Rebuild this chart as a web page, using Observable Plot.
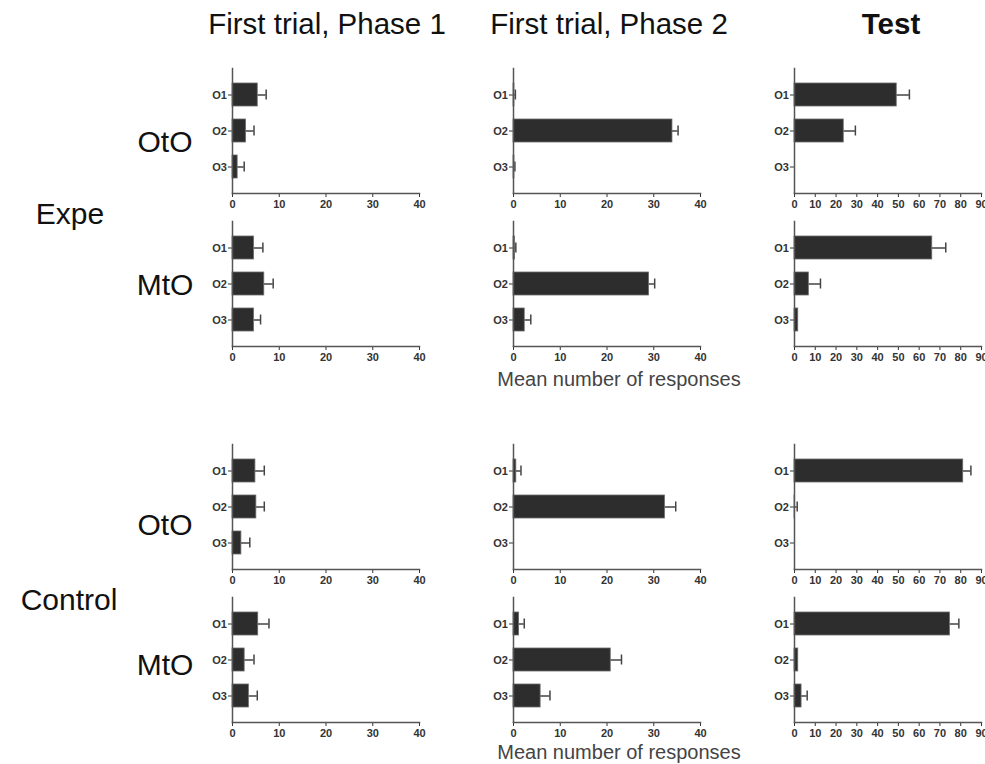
<!DOCTYPE html>
<html>
<head>
<meta charset="utf-8">
<script src="https://cdn.jsdelivr.net/npm/d3@7"></script>
<script src="https://cdn.jsdelivr.net/npm/@observablehq/plot@0.6"></script>
<style>
  html, body { margin: 0; padding: 0; background: #fff; overflow: hidden; }
  #root { position: relative; width: 985px; height: 764px; overflow: hidden; font-family: "Liberation Sans", Arial, sans-serif; color: #111; }
  .lbl { position: absolute; transform: translate(-50%, -50%); white-space: nowrap; }
  .panel { position: absolute; }
</style>
</head>
<body>
<div id="root"></div>
<script>
// ---- data ----
const categories = ["O1", "O2", "O3"];
const columnTitles = ["First trial, Phase 1", "First trial, Phase 2", "Test"];
const groupLabels = ["Expe", "Control"];
const designLabels = ["OtO", "MtO", "OtO", "MtO"];
const xAxisLabel = "Mean number of responses";
const xMax = [40, 40, 90];
const xTicks40 = [0, 10, 20, 30, 40];
const xTicks90 = [0, 10, 20, 30, 40, 50, 60, 70, 80, 90];

// means per row: [Phase 1, Phase 2, Test] x [O1, O2, O3]
const expeOtOMean = [[5.4, 2.9, 1.1], [0.2, 34.0, 0.2], [49.2, 23.7, 0]];
const expeOtOSem  = [[1.8, 1.7, 1.4], [0.2, 1.2, 0.1], [6.1, 5.6, 0]];
const expeMtOMean = [[4.6, 6.8, 4.6], [0.3, 29.0, 2.4], [66.3, 6.9, 1.8]];
const expeMtOSem  = [[1.9, 1.9, 1.4], [0.2, 1.2, 1.3], [6.5, 5.6, 0]];
const ctrlOtOMean = [[4.9, 5.1, 1.9], [0.6, 32.4, 0], [81.2, 0.2, 0]];
const ctrlOtOSem  = [[1.9, 1.7, 1.8], [1.0, 2.3, 0], [3.7, 1.1, 0]];
const ctrlMtOMean = [[5.5, 2.6, 3.5], [1.2, 20.8, 5.8], [74.8, 1.8, 3.4]];
const ctrlMtOSem  = [[2.3, 2.0, 1.8], [1.1, 2.3, 2.0], [4.3, 0, 2.7]];

const rowMeans = [expeOtOMean, expeMtOMean, ctrlOtOMean, ctrlMtOMean];
const rowSems = [expeOtOSem, expeMtOSem, ctrlOtOSem, ctrlMtOSem];

// ---- layout ----
const root = document.getElementById("root");
const colAxisX = [232, 512.7, 794];
const rowFrameTop = [68, 221, 444, 597];
const mL = 40, mR = 20, mT = 8, mB = 25, innerW = 187, innerH = 125;

function addLabel(text, x, y, css) {
  const d = document.createElement("div");
  d.className = "lbl";
  d.textContent = text;
  d.style.left = x + "px";
  d.style.top = y + "px";
  Object.assign(d.style, css);
  root.appendChild(d);
}

for (let r = 0; r < 4; r++) {
  for (let c = 0; c < 3; c++) {
    const data = categories.map((cat, i) => ({
      cat,
      mean: rowMeans[r][c][i],
      sem: rowSems[r][c][i],
      hi: rowMeans[r][c][i] + rowSems[r][c][i]
    }));
    const errs = data.filter(d => d.sem > 0);
    const bars = data.filter(d => d.mean > 0);
    const plot = Plot.plot({
      width: mL + innerW + mR,
      height: mT + innerH + mB,
      marginLeft: mL, marginRight: mR, marginTop: mT, marginBottom: mB,
      style: { fontFamily: "Liberation Sans, Arial, sans-serif", fontSize: "11px", fontWeight: "bold", color: "#333", background: "transparent", overflow: "visible" },
      x: { domain: [0, xMax[c]], ticks: c === 2 ? xTicks90 : xTicks40, tickSize: 4, tickPadding: 3, label: null },
      y: { domain: categories, paddingInner: 0.36, paddingOuter: 0.37, tickSize: 4, tickPadding: 1.5, label: null },
      marks: [
        Plot.ruleY(errs, { y: "cat", x1: "mean", x2: "hi", stroke: "#444", strokeWidth: 1.5 }),
        Plot.tickX(errs, { y: "cat", x: "hi", stroke: "#444", strokeWidth: 1.5, insetTop: 6.5, insetBottom: 6.5 }),
        Plot.barX(bars, { y: "cat", x: "mean", fill: "#2d2d2d", stroke: "#6a6a6a", strokeWidth: 0.8 }),
        Plot.frame({ anchor: "left", stroke: "#555", strokeWidth: 1.5 }),
        Plot.frame({ anchor: "bottom", stroke: "#555", strokeWidth: 1.5 })
      ]
    });
    plot.classList.add("panel");
    plot.style.left = (colAxisX[c] - mL) + "px";
    plot.style.top = (rowFrameTop[r] - mT) + "px";
    root.appendChild(plot);
  }
}

// column titles
const titleX = [327, 609, 891];
columnTitles.forEach((t, i) => addLabel(t, titleX[i], 24, { fontSize: "29.5px", fontWeight: i === 2 ? "bold" : "normal" }));

// design labels
const designY = [142, 285, 525, 665];
designLabels.forEach((t, i) => addLabel(t, 165, designY[i], { fontSize: "30px" }));

// group labels
addLabel(groupLabels[0], 70, 214, { fontSize: "30px" });
addLabel(groupLabels[1], 69, 600, { fontSize: "30px" });

// x-axis titles
addLabel(xAxisLabel, 619, 379, { fontSize: "20px", color: "#444" });
addLabel(xAxisLabel, 619, 752, { fontSize: "20px", color: "#444" });
</script>
</body>
</html>
